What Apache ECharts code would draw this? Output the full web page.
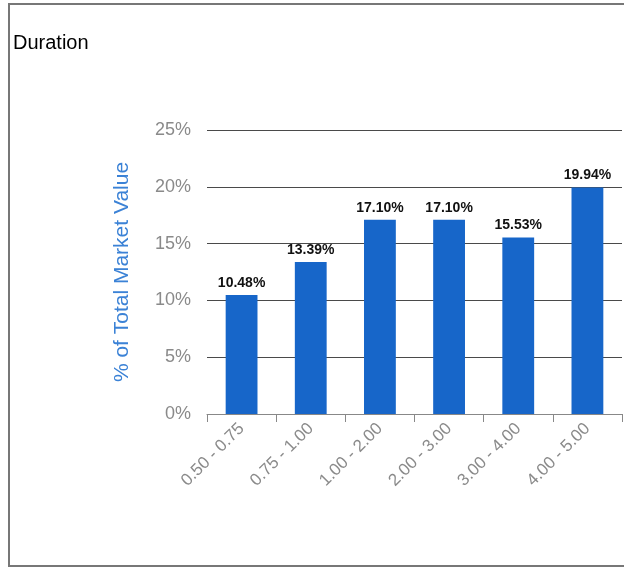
<!DOCTYPE html>
<html>
<head>
<meta charset="utf-8">
<script src="https://cdn.jsdelivr.net/npm/echarts@6/dist/echarts.min.js"></script>
<style>
  html, body { margin: 0; padding: 0; background: #fff; }
  #chart { width: 624px; height: 569px; }
</style>
</head>
<body>
<div id="chart"></div>
<script>
const categories = ['0.50 - 0.75', '0.75 - 1.00', '1.00 - 2.00', '2.00 - 3.00', '3.00 - 4.00', '4.00 - 5.00'];
const values = [10.48, 13.39, 17.10, 17.10, 15.53, 19.94];
const yTicks = [0, 5, 10, 15, 20, 25];

const myChart = echarts.init(document.getElementById('chart'));

const option = {
  animation: false,
  backgroundColor: '#fff',
  title: {
    text: 'Duration',
    left: 8,
    top: 28,
    textStyle: {
      fontFamily: 'Liberation Sans',
      fontSize: 20,
      fontWeight: 'normal',
      color: '#000'
    }
  },
  graphic: [
    {
      type: 'rect',
      shape: { x: 9, y: 4, width: 700, height: 562 },
      style: { fill: 'none', stroke: '#777', lineWidth: 2 },
      silent: true
    }
  ],
  grid: {
    left: 207,
    right: 2,
    top: 130,
    bottom: 155
  },
  xAxis: {
    type: 'category',
    data: categories,
    axisLine: { show: true, lineStyle: { color: '#888', width: 1 } },
    axisTick: { show: true, length: 8, lineStyle: { color: '#888' } },
    axisLabel: {
      rotate: 45,
      interval: 0,
      margin: 12,
      color: '#8a8a8a',
      fontFamily: 'Liberation Sans',
      fontSize: 17
    }
  },
  yAxis: {
    type: 'value',
    min: yTicks[0],
    max: yTicks[yTicks.length - 1],
    interval: 5,
    name: '% of Total Market Value',
    nameLocation: 'middle',
    nameGap: 74,
    nameTextStyle: {
      color: '#3b82d6',
      fontFamily: 'Liberation Sans',
      fontSize: 21
    },
    axisLine: { show: false },
    axisTick: { show: false },
    axisLabel: {
      formatter: '{value}%',
      margin: 16,
      color: '#8a8a8a',
      fontFamily: 'Liberation Sans',
      fontSize: 18
    },
    splitLine: {
      show: true,
      lineStyle: { color: '#4a4a4a', width: 1 }
    }
  },
  series: [
    {
      type: 'bar',
      data: values,
      barWidth: '46%',
      itemStyle: { color: '#1766c9' },
      label: {
        show: true,
        position: 'top',
        distance: 5,
        formatter: p => p.value.toFixed(2) + '%',
        color: '#111',
        fontFamily: 'Liberation Sans',
        fontWeight: 'bold',
        fontSize: 14
      }
    }
  ]
};

myChart.setOption(option);
</script>
</body>
</html>
